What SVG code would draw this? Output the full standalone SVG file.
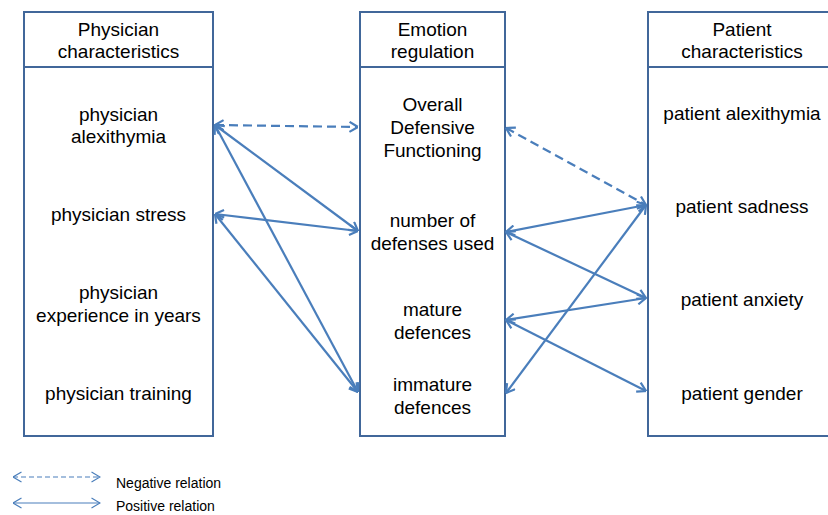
<svg xmlns="http://www.w3.org/2000/svg" width="828" height="515" viewBox="0 0 828 515">
<style>
.box{fill:#fff;stroke:#41679a;stroke-width:2}
.t{font-family:"Liberation Sans",Arial,sans-serif;font-size:19px;fill:#000;text-anchor:middle}
.lt{font-family:"Liberation Sans",Arial,sans-serif;font-size:14px;fill:#000}
.c{fill:none;stroke:#4a7ebb;stroke-width:2.2}
.d{stroke-dasharray:9,5}
.lg{fill:none;stroke:#4a7ebb;stroke-width:1.2}
</style>
<defs>
<marker id="a" viewBox="0 0 10 12" refX="9.5" refY="6" markerWidth="10" markerHeight="12" markerUnits="userSpaceOnUse" orient="auto-start-reverse">
<path d="M1,1 L9.5,6 L1,11" fill="none" stroke="#4a7ebb" stroke-width="2.2"/>
</marker>
<marker id="s" viewBox="0 0 10 12" refX="9.5" refY="6" markerWidth="10" markerHeight="12" markerUnits="userSpaceOnUse" orient="auto-start-reverse">
<path d="M1,1 L9.5,6 L1,11" fill="none" stroke="#4a7ebb" stroke-width="1.2"/>
</marker>
</defs>
<rect width="828" height="515" fill="#fff"/>
<g id="physician">
<rect class="box" x="24" y="12" width="189" height="424"/>
<line class="box" x1="24" y1="67" x2="213" y2="67"/>
<text class="t" x="118.5" y="36">Physician</text>
<text class="t" x="118.5" y="58">characteristics</text>
<text class="t" x="118.5" y="121">physician</text>
<text class="t" x="118.5" y="143">alexithymia</text>
<text class="t" x="118.5" y="221">physician stress</text>
<text class="t" x="118.5" y="299">physician</text>
<text class="t" x="118.5" y="322">experience in years</text>
<text class="t" x="118.5" y="400">physician training</text>
</g>
<g id="emotion">
<rect class="box" x="360" y="12" width="145" height="424"/>
<line class="box" x1="360" y1="67" x2="505" y2="67"/>
<text class="t" x="432.5" y="36">Emotion</text>
<text class="t" x="432.5" y="58">regulation</text>
<text class="t" x="432.5" y="111">Overall</text>
<text class="t" x="432.5" y="134">Defensive</text>
<text class="t" x="432.5" y="157">Functioning</text>
<text class="t" x="432.5" y="227">number of</text>
<text class="t" x="432.5" y="250">defenses used</text>
<text class="t" x="432.5" y="316">mature</text>
<text class="t" x="432.5" y="339">defences</text>
<text class="t" x="432.5" y="391">immature</text>
<text class="t" x="432.5" y="414">defences</text>
</g>
<g id="patient">
<rect class="box" x="648" y="12" width="190" height="424"/>
<line class="box" x1="648" y1="67" x2="838" y2="67"/>
<text class="t" x="742" y="36">Patient</text>
<text class="t" x="742" y="58">characteristics</text>
<text class="t" x="742" y="120">patient alexithymia</text>
<text class="t" x="742" y="213">patient sadness</text>
<text class="t" x="742" y="306">patient anxiety</text>
<text class="t" x="742" y="400">patient gender</text>
</g>
<g id="connectors">
<line class="c d" x1="215" y1="125" x2="358" y2="127" marker-start="url(#a)" marker-end="url(#a)"/>
<line class="c" x1="215" y1="125" x2="358" y2="231" marker-start="url(#a)" marker-end="url(#a)"/>
<line class="c" x1="215" y1="125" x2="358" y2="392" marker-start="url(#a)" marker-end="url(#a)"/>
<line class="c" x1="215" y1="214" x2="358" y2="231" marker-start="url(#a)" marker-end="url(#a)"/>
<line class="c" x1="215" y1="214" x2="358" y2="392" marker-start="url(#a)" marker-end="url(#a)"/>
<line class="c d" x1="506" y1="128" x2="646" y2="205" marker-start="url(#a)" marker-end="url(#a)"/>
<line class="c" x1="506" y1="232" x2="646" y2="205" marker-start="url(#a)" marker-end="url(#a)"/>
<line class="c" x1="506" y1="232" x2="646" y2="298" marker-start="url(#a)" marker-end="url(#a)"/>
<line class="c" x1="506" y1="320" x2="646" y2="298" marker-start="url(#a)" marker-end="url(#a)"/>
<line class="c" x1="506" y1="320" x2="646" y2="391" marker-start="url(#a)" marker-end="url(#a)"/>
<line class="c" x1="506" y1="393" x2="646" y2="205" marker-start="url(#a)" marker-end="url(#a)"/>
</g>
<g id="legend">
<line class="lg" x1="13" y1="477" x2="100" y2="477" stroke-dasharray="5,3" marker-start="url(#s)" marker-end="url(#s)"/>
<line class="lg" x1="13" y1="503" x2="100" y2="503" marker-start="url(#s)" marker-end="url(#s)"/>
<text class="lt" x="116" y="488">Negative relation</text>
<text class="lt" x="116" y="511">Positive relation</text>
</g>
</svg>
